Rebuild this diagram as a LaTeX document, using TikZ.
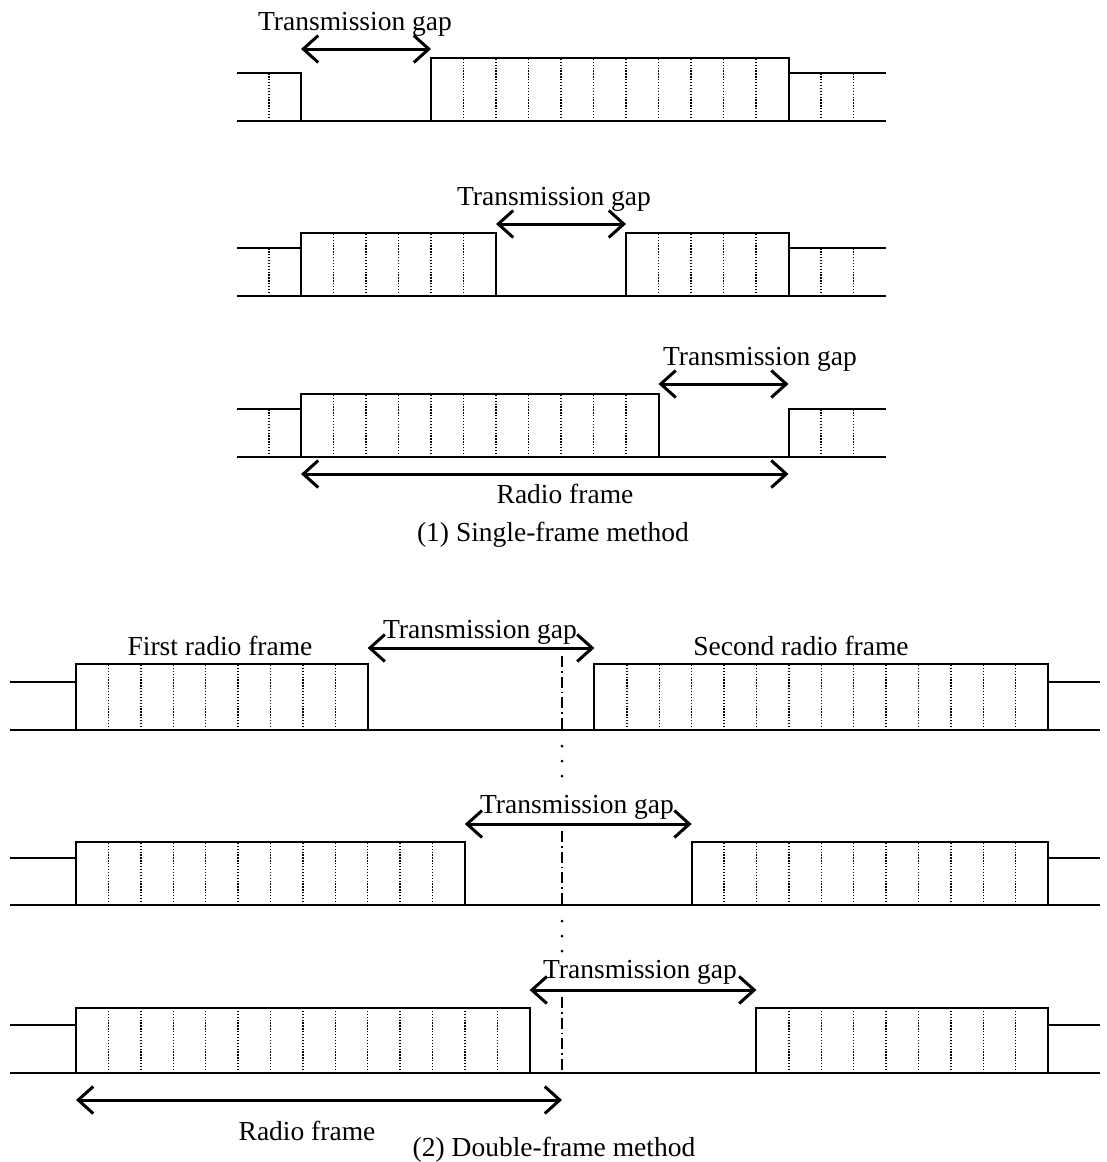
\documentclass[tikz,border=0pt]{standalone}
\usepackage{fontspec}
\setmainfont{Liberation Serif}
\usetikzlibrary{arrows.meta}
\begin{document}
\begin{tikzpicture}[x=1pt,y=-1pt,
  wave/.style={line width=2pt, line join=miter},
  slot/.style={line width=1.4pt, dash pattern=on 1.3pt off 1.6pt},
  gaparrow/.style={line width=3pt, {Straight Barb[length=15pt,width=27pt]}-{Straight Barb[length=15pt,width=27pt]}},
  lbl/.style={inner sep=0pt, font=\fontsize{27.5}{30}\selectfont},
  axisline/.style={line width=1.4pt, dash pattern=on 11pt off 4pt on 1.5pt off 4pt}]
\useasboundingbox (0,0) rectangle (1106,1162);

% ================= (1) Single-frame method =================
% Row 1
\draw[wave] (237,121) -- (886,121);
\draw[wave] (237,73) -- (301,73) -- (301,121);
\draw[slot] (269,121) -- (269,73);
\draw[wave] (431,121) rectangle (788.5,58);
\foreach \k in {1,...,10} \draw[slot] ({431+\k*32.5},121) -- ++(0,-63);
\draw[wave] (788.5,73) -- (886,73);
\foreach \k in {1,2} \draw[slot] ({788.5+\k*32.5},121) -- ++(0,-48);
\coordinate (g1a) at (301,49);
\coordinate (g1b) at (431,49);
\draw[gaparrow] (g1a) -- (g1b);
\node[lbl] (t1) at (355,24) {Transmission gap};

% Row 2
\draw[wave] (237,296) -- (886,296);
\draw[wave] (237,248) -- (301,248);
\draw[slot] (269,296) -- (269,248);
\draw[wave] (301,296) rectangle (496,233);
\foreach \k in {1,...,5} \draw[slot] ({301+\k*32.5},296) -- ++(0,-63);
\draw[wave] (626,296) rectangle (788.5,233);
\foreach \k in {1,...,4} \draw[slot] ({626+\k*32.5},296) -- ++(0,-63);
\draw[wave] (788.5,248) -- (886,248);
\foreach \k in {1,2} \draw[slot] ({788.5+\k*32.5},296) -- ++(0,-48);
\coordinate (g2a) at (496,224);
\coordinate (g2b) at (626,224);
\draw[gaparrow] (g2a) -- (g2b);
\node[lbl] (t2) at (554,199) {Transmission gap};

% Row 3
\draw[wave] (237,457) -- (886,457);
\draw[wave] (237,409) -- (301,409);
\draw[slot] (269,457) -- (269,409);
\draw[wave] (301,457) rectangle (658.5,394);
\foreach \k in {1,...,10} \draw[slot] ({301+\k*32.5},457) -- ++(0,-63);
\draw[wave] (788.5,457) -- (788.5,409) -- (886,409);
\foreach \k in {1,2} \draw[slot] ({788.5+\k*32.5},457) -- ++(0,-48);
\coordinate (g3a) at (658.5,384);
\coordinate (g3b) at (788.5,384);
\draw[gaparrow] (g3a) -- (g3b);
\node[lbl] (t3) at (760,359) {Transmission gap};

\coordinate (rf1a) at (301,474);
\coordinate (rf1b) at (788.5,474);
\draw[gaparrow] (rf1a) -- (rf1b);
\node[lbl] (rf1) at (565,494) {Radio frame};
\node[lbl] (cap1) at (553,535) {(1) Single-frame method};

% ================= (2) Double-frame method =================
\foreach \yH/\yL/\yB/\na in {664/682/730/9, 842/858/905/12, 1008/1025/1073/14}{
  \pgfmathsetmacro{\ea}{76+\na*32.4}
  \pgfmathsetmacro{\sb}{76+(\na+7)*32.4}
  \pgfmathtruncatemacro{\ma}{\na-1}
  \pgfmathtruncatemacro{\mb}{30-\na-7-1}
  \draw[wave] (10,\yB) -- (1100,\yB);
  \draw[wave] (10,\yL) -- (76,\yL);
  \draw[wave] (76,\yB) rectangle (\ea,\yH);
  \foreach \k in {1,...,\ma} \draw[slot] ({76+\k*32.4},\yB) -- ({76+\k*32.4},\yH);
  \draw[wave] (\sb,\yB) rectangle (1048,\yH);
  \foreach \k in {1,...,\mb} \draw[slot] ({\sb+\k*32.4},\yB) -- ({\sb+\k*32.4},\yH);
  \draw[wave] (1048,\yL) -- (1100,\yL);
}

% frame boundary (dash-dot) and continuation dots
\coordinate (b1t) at (562,656); \coordinate (b1b) at (562,730);
\coordinate (b2t) at (562,831); \coordinate (b2b) at (562,905);
\coordinate (b3t) at (562,997); \coordinate (b3b) at (562,1073);
\draw[axisline] (b1t) -- (b1b);
\draw[axisline] (b2t) -- (b2b);
\draw[axisline] (b3t) -- (b3b);
\foreach \y in {746,761,776,921,936,951} \fill (562,\y) circle (1.5pt);

% gap arrows
\coordinate (h1a) at (367.6,648); \coordinate (h1b) at (594.4,648);
\draw[gaparrow] (h1a) -- (h1b);
\node[lbl] (u1) at (480,632) {Transmission gap};
\node[lbl] (fr1) at (220,646) {First radio frame};
\node[lbl] (fr2) at (801,646) {Second radio frame};

\coordinate (h2a) at (464.8,824); \coordinate (h2b) at (691.6,824);
\draw[gaparrow] (h2a) -- (h2b);
\node[lbl] (u2) at (577,807) {Transmission gap};

\coordinate (h3a) at (529.6,990); \coordinate (h3b) at (756.4,990);
\draw[gaparrow] (h3a) -- (h3b);
\node[lbl] (u3) at (640,972) {Transmission gap};

\coordinate (rf2a) at (76,1100);
\coordinate (rf2b) at (562,1100);
\draw[gaparrow] (rf2a) -- (rf2b);
\node[lbl] (rf2) at (307,1131) {Radio frame};
\node[lbl] (cap2) at (554,1150) {(2) Double-frame method};
\end{tikzpicture}
\end{document}
